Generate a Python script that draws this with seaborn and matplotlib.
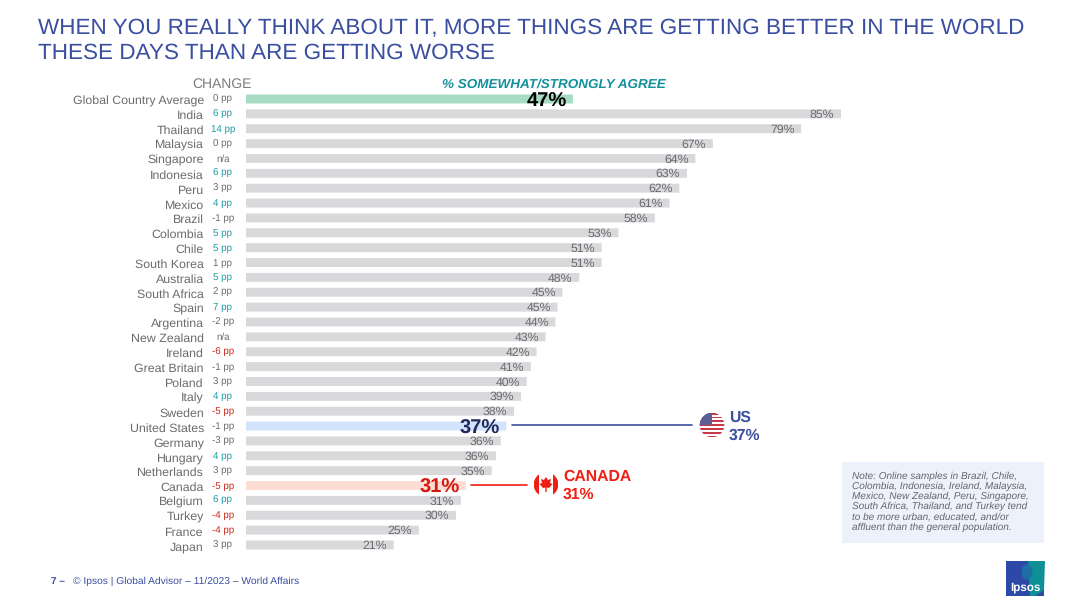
import matplotlib
matplotlib.use('Agg')
import matplotlib.pyplot as plt
import seaborn as sns
import pandas as pd
import numpy as np
from matplotlib.patches import Circle, Rectangle, Polygon, Ellipse

# Data
countries = ['Global Country Average', 'India', 'Thailand', 'Malaysia', 'Singapore', 'Indonesia',
             'Peru', 'Mexico', 'Brazil', 'Colombia', 'Chile', 'South Korea', 'Australia',
             'South Africa', 'Spain', 'Argentina', 'New Zealand', 'Ireland', 'Great Britain',
             'Poland', 'Italy', 'Sweden', 'United States', 'Germany', 'Hungary', 'Netherlands',
             'Canada', 'Belgium', 'Turkey', 'France', 'Japan']
# printed labels
agree = [47, 85, 79, 67, 64, 63, 62, 61, 58, 53, 51, 51, 48, 45, 45, 44, 43, 42, 41, 40, 39,
         38, 37, 36, 36, 35, 31, 31, 30, 25, 21]
bar_len = [46.7, 85.0, 79.3, 66.7, 64.2, 63.0, 61.9, 60.5, 58.4, 53.2, 50.8, 50.8, 47.6, 45.2, 44.5,
           44.2, 42.8, 41.5, 40.7, 40.1, 39.3, 38.3, 37.2, 36.4, 35.7, 35.1, 31.4, 30.7, 30.0, 24.7, 21.1]
change = ['0 pp', '6 pp', '14 pp', '0 pp', 'n/a', '6 pp', '3 pp', '4 pp', '-1 pp', '5 pp', '5 pp',
          '1 pp', '5 pp', '2 pp', '7 pp', '-2 pp', 'n/a', '-6 pp', '-1 pp', '3 pp', '4 pp', '-5 pp',
          '-1 pp', '-3 pp', '4 pp', '3 pp', '-5 pp', '6 pp', '-4 pp', '-4 pp', '3 pp']

GREY = '#6b6b70'
TEAL = '#1b9aa6'
RED = '#c9281c'
BLUE = '#3a4fa0'
BRIGHT_RED = '#f01f14'

W, H = 1080, 607

sns.set_style('white')
plt.rcParams['font.family'] = ['Liberation Sans', 'DejaVu Sans']
plt.rcParams['text.hinting'] = 'no_hinting'

df = pd.DataFrame({'country': countries, 'agree': agree, 'bar_len': bar_len, 'change': change})

bar_colors = {c: '#d9d8db' for c in countries}
bar_colors['Global Country Average'] = '#a6dcc2'
bar_colors['United States'] = '#d3e3fb'
bar_colors['Canada'] = '#fcdcd3'

fig = plt.figure(figsize=(W / 100, H / 100), dpi=100)
fig.patch.set_facecolor('white')

# bar axes: 7 px per percentage point, first row centred at y=99, last at y=545
step = (545 - 99) / 30
top, bottom = 99 - step / 2, 545 + step / 2
ax = fig.add_axes([246 / W, 1 - bottom / H, 700 / W, (bottom - top) / H])
sns.barplot(data=df, x='bar_len', y='country', hue='country', palette=bar_colors, legend=False,
            width=0.6, dodge=False, saturation=1, ax=ax)
for bar in ax.patches:
    bar.set_snap(False)
    bar.set_linewidth(0)
ax.set_xlim(0, 100)
ax.set_ylim(30.5, -0.5)
ax.set_xlabel('')
ax.set_ylabel('')
ax.set_xticks([])
ax.set_yticks(range(len(countries)))
ax.set_yticklabels([])
ax.tick_params(left=False, bottom=False)
sns.despine(ax=ax, left=True, bottom=True)
ax.patch.set_alpha(0)

special = {'Global Country Average': 'black', 'United States': '#1f2a5c', 'Canada': '#d4190f'}

for i, row in df.iterrows():
    # country name and change column, on fixed baselines
    ax.text(-6.0, i + 0.36, row['country'], ha='right', va='baseline', fontsize=8.9, color=GREY)
    txt = row['change']
    col = GREY
    if txt != 'n/a':
        v = int(txt.split()[0])
        if v >= 4:
            col = TEAL
        elif v <= -4:
            col = RED
    ax.text(-3.3, i + 0.2, txt, ha='center', va='baseline', fontsize=7, color=col)
    # value label
    if row['country'] in special:
        ax.text(row['bar_len'] - 0.9, i + 0.5, f"{row['agree']}%", ha='right', va='baseline',
                fontsize=14.5, fontweight='bold', color=special[row['country']])
    else:
        ax.text(row['bar_len'] - 0.95, i + 0.27, f"{row['agree']}%", ha='right', va='baseline',
                fontsize=8.8, color=GREY)

# overlay in pixel coordinates for the furniture around the chart
ov = fig.add_axes([0, 0, 1, 1], zorder=5)
ov.set_xlim(0, W)
ov.set_ylim(H, 0)
ov.axis('off')
ov.patch.set_alpha(0)

ov.text(38, 34, 'WHEN YOU REALLY THINK ABOUT IT, MORE THINGS ARE GETTING BETTER IN THE WORLD',
        fontsize=16.2, color=BLUE, va='baseline')
ov.text(38, 59, 'THESE DAYS THAN ARE GETTING WORSE', fontsize=16.2, color=BLUE, va='baseline')
ov.text(222, 84, 'CHANGE', fontsize=10, color='#7d7d82', ha='center', va='center')
ov.text(554, 84, '% SOMEWHAT/STRONGLY AGREE', fontsize=9.7, color='#12919b', ha='center',
        va='center', fontweight='bold', style='italic')

# US callout
ov.plot([512, 692], [425, 425], color=BLUE, lw=1.2)
flag = Circle((712, 425), 12.3, facecolor='none', edgecolor='none')
ov.add_patch(flag)
for k in range(13):
    s = ov.add_patch(Rectangle((699, 412.7 + k * 1.9), 26, 1.9,
                               facecolor='#c8384a' if k % 2 == 0 else 'white', edgecolor='none'))
    s.set_clip_path(flag)
canton = ov.add_patch(Rectangle((699, 412.7), 13, 12, facecolor='#5a5f96', edgecolor='none'))
canton.set_clip_path(flag)
ov.text(729, 418, 'US', fontsize=11.3, color=BLUE, fontweight='bold', va='center')
ov.text(729, 435.5, '37%', fontsize=11.3, color=BLUE, fontweight='bold', va='center')

# Canada callout
ov.plot([471, 527], [484.5, 484.5], color=BRIGHT_RED, lw=1.2)
cflag = Circle((546, 484.5), 12.3, facecolor='none', edgecolor='none')
ov.add_patch(cflag)
for x0 in (534, 553):
    s = ov.add_patch(Rectangle((x0, 472), 5, 25, facecolor=BRIGHT_RED, edgecolor='none'))
    s.set_clip_path(cflag)
ov.add_patch(Polygon([(546, 477), (548, 480), (551, 479), (550, 483), (552.5, 484), (549, 488),
                      (546.7, 487.5), (546.7, 492), (545.3, 492), (545.3, 487.5), (543, 488),
                      (539.5, 484), (542, 483), (541, 479), (544, 480)],
                     facecolor=BRIGHT_RED, edgecolor='none'))
ov.text(563, 477, 'CANADA', fontsize=11.3, color=BRIGHT_RED, fontweight='bold', va='center')
ov.text(563, 495, '31%', fontsize=11.3, color=BRIGHT_RED, fontweight='bold', va='center')

# note box
ov.add_patch(Rectangle((842, 462), 202, 81, facecolor='#edf1fb', edgecolor='none'))
note = ['Note: Online samples in Brazil, Chile,', 'Colombia, Indonesia, Ireland, Malaysia,',
        'Mexico, New Zealand, Peru, Singapore,', 'South Africa, Thailand, and Turkey tend',
        'to be more urban, educated, and/or', 'affluent than the general population.']
for k, line in enumerate(note):
    ov.text(852, 478.5 + k * 10.3, line, fontsize=7.2, style='italic', color='#66666c', va='baseline')

# footer
ov.text(51, 581, '7 \u2013', fontsize=7.2, color=BLUE, fontweight='bold', va='center')
ov.text(73, 581, '\u00a9 Ipsos | Global Advisor \u2013 11/2023 \u2013 World Affairs', fontsize=7.35,
        color=BLUE, va='center')

# logo
ov.add_patch(Rectangle((1006, 561), 38, 35, facecolor='#2c4aa5', edgecolor='none'))
ov.add_patch(Polygon([(1028, 561), (1045, 561), (1044, 590), (1035, 596), (1030, 596)],
                     facecolor='#0f8f96', edgecolor='none'))
ov.add_patch(Ellipse((1027, 572), 11, 15, facecolor='#1d6fa8', edgecolor='none'))
ov.text(1025, 587.5, 'Ipsos', fontsize=8.4, color='white', fontweight='bold', ha='center', va='center')

fig.savefig('out.png', dpi=100)
